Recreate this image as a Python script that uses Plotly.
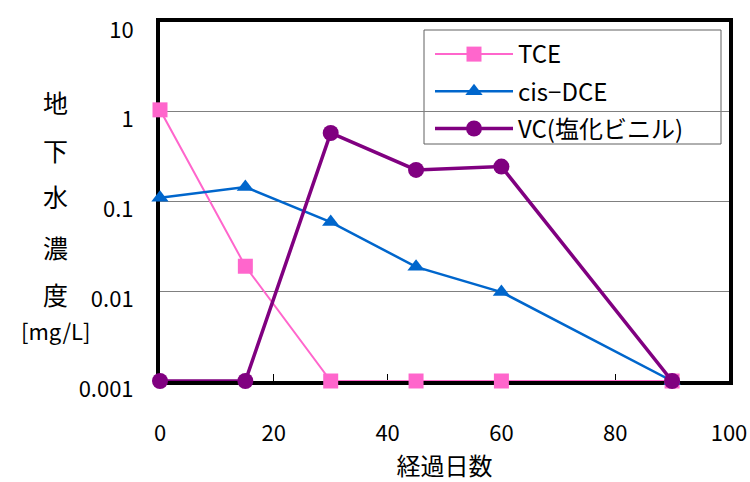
import plotly.graph_objects as go

days = [0, 15, 30, 45, 60, 90]
tce = [1.05, 0.019, 0.001, 0.001, 0.001, 0.001]
cis_dce = [0.11, 0.145, 0.059, 0.0187, 0.0098, 0.001]
vc = [0.001, 0.001, 0.58, 0.225, 0.245, 0.001]

y_tickvals = [0.001, 0.01, 0.1, 1, 10]
y_ticktext = ["0.001", "0.01", "0.1", "1", "10"]
x_tickvals = [0, 20, 40, 60, 80, 100]
ylabel_chars = ["地", "下", "水", "濃", "度"]

font_family = "Noto Sans CJK JP, Noto Sans, sans-serif"

L, R, T, B = 160, 729, 22, 381
W, H = R - L, B - T

def px(x):
    return (x - L) / W

def py(y):
    return (B - y) / H

fig = go.Figure()
fig.add_trace(go.Scatter(x=days, y=tce, name="TCE", mode="lines+markers", legendgroup="a",
                         line=dict(color="#FF66CC", width=2),
                         marker=dict(symbol="square", size=15, color="#FF66CC"),
                         cliponaxis=False))
fig.add_trace(go.Scatter(x=days, y=cis_dce, name="cis−DCE", mode="lines+markers", legendgroup="b",
                         line=dict(color="#0066CC", width=2.5),
                         marker=dict(symbol="triangle-up", size=15, color="#0066CC"),
                         cliponaxis=False))
fig.add_trace(go.Scatter(x=days, y=vc, name="VC(塩化ビニル)", mode="lines+markers", legendgroup="c",
                         line=dict(color="#800080", width=3.5),
                         marker=dict(symbol="circle", size=16, color="#800080"),
                         cliponaxis=False))

fig.update_layout(
    width=750, height=482,
    margin=dict(l=L, r=750 - R, t=T, b=482 - B),
    paper_bgcolor="white", plot_bgcolor="white",
    font=dict(family=font_family, size=22, color="black"),
    showlegend=True,
    legend=dict(x=px(430), y=py(32), xanchor="left", yanchor="top",
                bgcolor="rgba(0,0,0,0)", borderwidth=0,
                font=dict(size=24), tracegroupgap=3, itemwidth=78),
    xaxis=dict(range=[0, 100], tickvals=x_tickvals, showgrid=False, automargin=False,
               showline=True, linewidth=4, linecolor="black", mirror=True,
               ticks="inside", ticklen=7, tickcolor="black", tickwidth=1,
               ticklabelstandoff=30, layer="below traces", zeroline=False,
               tickfont=dict(size=22),
               title=dict(text="経過日数", font=dict(size=24), standoff=17)),
    yaxis=dict(type="log", range=[-3, 1], tickvals=y_tickvals, ticktext=y_ticktext,
               showgrid=True, gridcolor="#808080", gridwidth=1, automargin=False,
               showline=True, linewidth=4, linecolor="black", mirror=True,
               ticks="", ticklabelstandoff=18, ticklabelshift=8,
               layer="below traces", zeroline=False, tickfont=dict(size=22)),
)

# legend frame
fig.add_shape(type="rect", xref="paper", yref="paper",
              x0=px(424), x1=px(721), y0=py(144), y1=py(30),
              line=dict(color="#606060", width=1), fillcolor="white", layer="below")

ypix = [102, 150, 196, 247, 294]
for ch, yp in zip(ylabel_chars, ypix):
    fig.add_annotation(x=px(56), y=py(yp), xref="paper", yref="paper",
                       text=ch, showarrow=False, font=dict(size=25),
                       xanchor="center", yanchor="middle")
fig.add_annotation(x=px(56), y=py(330), xref="paper", yref="paper",
                   text="[mg/L]", showarrow=False, font=dict(size=22),
                   xanchor="center", yanchor="middle")

fig.write_html("out.html",
               config={"displayModeBar": False},
               post_script="document.body.style.margin='0';"
                           "document.body.style.overflow='hidden';")
